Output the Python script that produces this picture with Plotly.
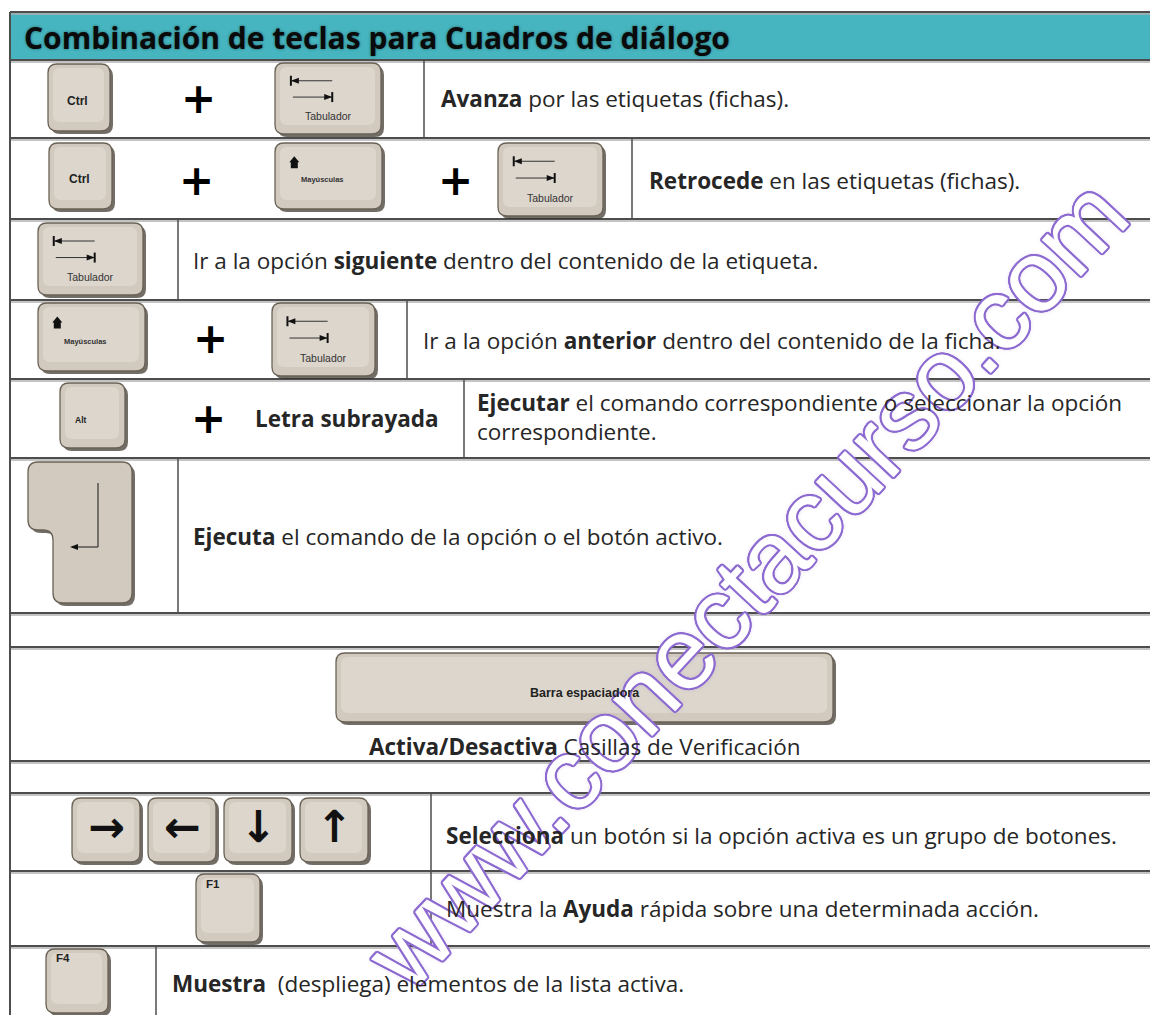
import math
import plotly.graph_objects as go

# ---------------- content ----------------
TITLE = "Combinación de teclas para Cuadros de diálogo"

# keys shown in each table row, left to right ("+" = plus sign between keys)
ROW_KEYS = [
    ["Ctrl", "+", "Tab"],
    ["Ctrl", "+", "Shift", "+", "Tab"],
    ["Tab"],
    ["Shift", "+", "Tab"],
    ["Alt", "+", "Letra subrayada"],
    ["Enter"],
    [],
    ["Space"],
    [],
    ["Right", "Left", "Down", "Up"],
    ["F1"],
    ["F4"],
]

ROW_DESCRIPTIONS = [
    "<b>Avanza</b> por las etiquetas (fichas).",
    "<b>Retrocede</b> en las etiquetas (fichas).",
    "Ir a la opción <b>siguiente</b> dentro del contenido de la etiqueta.",
    "Ir a la opción <b>anterior</b> dentro del contenido de la ficha.",
    "<b>Ejecutar</b> el comando correspondiente o seleccionar la opción<br>correspondiente.",
    "<b>Ejecuta</b> el comando de la opción o el botón activo.",
    "",
    "<b>Activa/Desactiva</b> Casillas de Verificación",
    "",
    "<b>Selecciona</b> un botón si la opción activa es un grupo de botones.",
    "Muestra la <b>Ayuda</b> rápida sobre una determinada acción.",
    "<b>Muestra</b>\u00a0 (despliega) elementos de la lista activa.",
]

KEY_CAPTIONS = {
    "Ctrl": "Ctrl", "Tab": "Tabulador", "Shift": "Mayúsculas", "Alt": "Alt",
    "Space": "Barra espaciadora", "F1": "F1", "F4": "F4",
    "Right": "→", "Left": "←", "Down": "↓", "Up": "↑",
}

WATERMARK = "www.conectacurso.com"

# ---------------- geometry / style ----------------
W, H = 1150, 1015
ROW_EDGES = [12, 60, 138, 219, 300, 379, 458, 613, 647, 761, 793, 871, 946]
TABLE_LEFT, TABLE_RIGHT = 10, 1160
DIVIDERS = [424, 632, 178, 407, 464, 178, None, None, None, 431, 431, 156]

ITEM_GEOM = [
    [(48, 64, 110, 131), (198, 98), (275, 63, 381, 134)],
    [(49, 143, 112, 209), (196, 180), (275, 143, 382, 209), (455, 180), (498, 143, 603, 216)],
    [(38, 223, 143, 295)],
    [(38, 303, 145, 371), (210, 338), (272, 303, 375, 376)],
    [(60, 383, 125, 448), (208, 418), (347, 418)],
    [[(28, 462), (132, 462), (132, 603), (53, 603), (53, 530), (28, 530)]],
    [],
    [(336, 653, 833, 722)],
    [],
    [(72, 798, 140, 862), (148, 798, 216, 862), (224, 798, 292, 862), (300, 798, 368, 862)],
    [(196, 874, 260, 942)],
    [(46, 949, 108, 1013)],
]

DESC_POS = [
    (439, 98, "left"), (647, 180, "left"), (191, 260, "left"), (421, 340, "left"),
    (475, 417, "left"), (191, 536, "left"), None, (585, 746, "center"), None,
    (444, 835, "left"), (444, 908, "left"), (170, 983, "left"),
]

HEADER_COLOR = "#46b5bf"
LINE_COLOR = "#4d4d4d"
KEY_FACE = "#d2cabe"
KEY_TOP = "#dcd6cd"
KEY_EDGE = "#6a6256"
KEY_SHADOW = "rgba(55,47,38,0.7)"
TEXT_COLOR = "#262626"
BODY_FONT = "Open Sans"
BODY_SIZE = 22.5
KEY_FONT = "Liberation Sans"

fig = go.Figure()
fig.add_trace(go.Scatter(x=[], y=[], showlegend=False))

shapes = []
annotations = []


def rounded_path(pts, r):
    n = len(pts)
    parts = []
    for i in range(n):
        p0, p1, p2 = pts[i - 1], pts[i], pts[(i + 1) % n]
        d1 = (p0[0] - p1[0], p0[1] - p1[1])
        d2 = (p2[0] - p1[0], p2[1] - p1[1])
        l1 = math.hypot(*d1)
        l2 = math.hypot(*d2)
        rr = min(r, l1 / 2, l2 / 2)
        a = (p1[0] + d1[0] / l1 * rr, p1[1] + d1[1] / l1 * rr)
        b = (p1[0] + d2[0] / l2 * rr, p1[1] + d2[1] / l2 * rr)
        parts.append(("M" if i == 0 else "L") + f"{a[0]:.1f},{a[1]:.1f} Q{p1[0]:.1f},{p1[1]:.1f} {b[0]:.1f},{b[1]:.1f}")
    return " ".join(parts) + " Z"


def rect_pts(x0, y0, x1, y1):
    return [(x0, y0), (x1, y0), (x1, y1), (x0, y1)]


def add_path(path, fill, line_color=None, width=0):
    shapes.append(dict(type="path", path=path, xref="x", yref="y", fillcolor=fill,
                       line=dict(color=line_color or fill, width=width), layer="above"))


def add_line(x0, y0, x1, y1, color, width):
    shapes.append(dict(type="line", x0=x0, y0=y0, x1=x1, y1=y1, xref="x", yref="y",
                       line=dict(color=color, width=width), layer="above"))


def text(x, y, s, size, color=TEXT_COLOR, family=BODY_FONT, xanchor="center", align="center", **kw):
    annotations.append(dict(x=x, y=y, xref="x", yref="y", text=s, showarrow=False,
                            xanchor=xanchor, yanchor="middle", align=align,
                            font=dict(size=size, color=color, family=family, **kw)))


def draw_key_body(pts, r=9):
    shadow = [(p[0] + 3, p[1] + 3) for p in pts]
    add_path(rounded_path(shadow, r), KEY_SHADOW)
    add_path(rounded_path(pts, r), KEY_FACE, KEY_EDGE, 1.3)


def draw_key(name, box):
    x0, y0, x1, y1 = box
    w, h = x1 - x0, y1 - y0
    draw_key_body(rect_pts(x0, y0, x1, y1))
    add_path(rounded_path(rect_pts(x0 + 5, y0 + 4, x1 - 6, y1 - 9), 7), KEY_TOP)
    cap = KEY_CAPTIONS[name]
    if name == "Tab":
        bx = x0 + 0.15 * w
        ex = x0 + 0.54 * w
        uy = y0 + 0.25 * h
        ly = y0 + 0.48 * h
        add_line(bx, uy - 5, bx, uy + 5, "#111", 2)
        add_line(bx, uy, ex, uy, "#333", 1)
        add_path(f"M{bx:.1f},{uy:.1f} L{bx+8:.1f},{uy-3:.1f} L{bx+8:.1f},{uy+3:.1f} Z", "#111")
        add_line(bx + 2, ly, ex, ly, "#333", 1)
        add_path(f"M{ex:.1f},{ly:.1f} L{ex-8:.1f},{ly-3:.1f} L{ex-8:.1f},{ly+3:.1f} Z", "#111")
        add_line(ex, ly - 5, ex, ly + 5, "#111", 2)
        text(x0 + 0.5 * w, y0 + 0.75 * h, cap, 10.5, "#333", KEY_FONT)
    elif name == "Shift":
        cx = x0 + 0.18 * w
        ty = y0 + 0.2 * h
        add_path(f"M{cx:.1f},{ty:.1f} L{cx+5:.1f},{ty+6:.1f} L{cx+3.5:.1f},{ty+6:.1f} L{cx+3.5:.1f},{ty+12:.1f} "
                 f"L{cx-3.5:.1f},{ty+12:.1f} L{cx-3.5:.1f},{ty+6:.1f} L{cx-5:.1f},{ty+6:.1f} Z", "#111")
        text(x0 + 0.44 * w, y0 + 0.56 * h, "<b>" + cap + "</b>", 7.5, "#333", KEY_FONT)
    elif name in ("Ctrl",):
        text(x0 + 0.48 * w, y0 + 0.55 * h, "<b>" + cap + "</b>", 12, "#222", KEY_FONT)
    elif name == "Alt":
        text(x0 + 0.32 * w, y0 + 0.57 * h, "<b>" + cap + "</b>", 8.5, "#222", KEY_FONT)
    elif name in ("F1", "F4"):
        text(x0 + 0.27 * w, y0 + 0.14 * h, "<b>" + cap + "</b>", 11.5, "#222", KEY_FONT)
    elif name == "Space":
        text(x0 + 0.5 * w, y0 + 0.58 * h, "<b>" + cap + "</b>", 12.5, "#222", KEY_FONT)
    elif name in ("Right", "Left", "Down", "Up"):
        text(x0 + 0.5 * w, y0 + 0.44 * h, "<b>" + cap + "</b>", 44, "#111", "DejaVu Sans")


def draw_enter(pts):
    draw_key_body(pts, 10)
    add_line(98, 483, 98, 547, "#333", 1.2)
    add_line(72, 547, 98, 547, "#333", 1.2)
    add_path("M70,547 L78,544 L78,550 Z", "#111")


# ---------------- watermark (drawn first so text sits on top) ----------------
outline = ", ".join(
    f"{2.0*math.cos(a):.2f}px {2.0*math.sin(a):.2f}px 0 #8d6bd0"
    for a in [i * math.pi / 8 for i in range(16)]
) + ", 0 0 5px rgba(141,107,208,0.6)"
annotations.append(dict(x=746, y=584, xref="x", yref="y", text=WATERMARK, showarrow=False,
                        xanchor="center", yanchor="middle", textangle=-47,
                        font=dict(size=101, color="white",
                                  family="Liberation Sans Narrow, Arial Narrow, Liberation Sans, Arial",
                                  shadow=outline)))

# ---------------- table frame ----------------
shapes.append(dict(type="rect", x0=TABLE_LEFT, x1=TABLE_RIGHT, y0=ROW_EDGES[0], y1=ROW_EDGES[1],
                   xref="x", yref="y", fillcolor=HEADER_COLOR, line=dict(width=0), layer="below"))
for y in ROW_EDGES:
    add_line(TABLE_LEFT, y + 2, TABLE_RIGHT, y + 2, "#b0b0b0", 1.5)
    add_line(TABLE_LEFT, y, TABLE_RIGHT, y, LINE_COLOR, 2)
add_line(TABLE_LEFT, ROW_EDGES[0], TABLE_LEFT, H + 5, LINE_COLOR, 2)

row_bottoms = ROW_EDGES[2:] + [H + 5]
for i, dx in enumerate(DIVIDERS):
    if dx is None:
        continue
    add_line(dx, ROW_EDGES[i + 1], dx, row_bottoms[i], LINE_COLOR, 1.5)

text(22, 37, "<b>" + TITLE + "</b>", 30, "#0a0a0a", BODY_FONT, xanchor="left", align="left",
     shadow="0 0 3px rgba(0,0,0,0.45)")

# ---------------- rows ----------------
for keys, geoms in zip(ROW_KEYS, ITEM_GEOM):
    for k, g in zip(keys, geoms):
        if k == "+":
            text(g[0], g[1], "<b>+</b>", 42, "#000", "DejaVu Sans")
        elif k == "Enter":
            draw_enter(g)
        elif k in KEY_CAPTIONS:
            draw_key(k, g)
        else:
            text(g[0], g[1], "<b>" + k + "</b>", BODY_SIZE, TEXT_COLOR, BODY_FONT)

for desc, pos in zip(ROW_DESCRIPTIONS, DESC_POS):
    if pos is None or not desc:
        continue
    x, y, anchor = pos
    text(x, y, desc, BODY_SIZE, TEXT_COLOR, BODY_FONT, xanchor=anchor,
         align="left" if anchor == "left" else "center")

fig.update_layout(
    width=W, height=H,
    margin=dict(l=0, r=0, t=0, b=0),
    paper_bgcolor="white", plot_bgcolor="white",
    xaxis=dict(range=[0, W], visible=False, fixedrange=True),
    yaxis=dict(range=[H, 0], visible=False, fixedrange=True),
    shapes=shapes, annotations=annotations, showlegend=False,
)

fig.write_html("out.html", config={"displayModeBar": False},
               post_script="document.body.style.margin='0';document.body.style.overflow='hidden';")
